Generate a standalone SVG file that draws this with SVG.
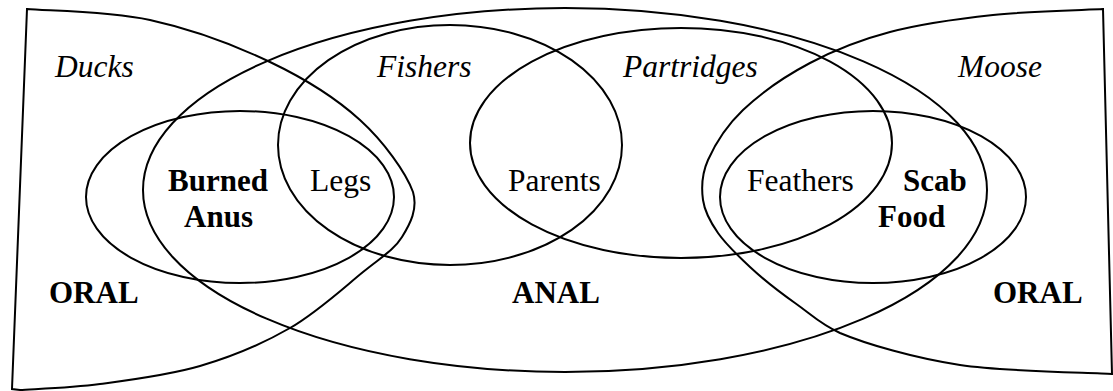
<svg xmlns="http://www.w3.org/2000/svg" width="1113" height="391" viewBox="0 0 1113 391">
<style>
.s{fill:none;stroke:#000;stroke-width:2}
.t{font-family:"Liberation Serif","Times New Roman",serif;font-size:31.5px;fill:#000}
.i{font-style:italic}
.b{font-weight:bold;font-size:31px}
</style>
<rect width="1113" height="391" fill="#fff"/>
<g id="oral-left">
<path class="s" d="M27,9 C47.5,10.8 109.5,11.2 150,20 C190.5,28.8 235,45.3 270,62 C305,78.7 336.2,98.3 360,120 C383.8,141.7 406,172.5 413,192 C418,209 410.3,223.7 402,237 C393.7,250.3 381.7,256.8 363,272 C344.3,287.2 317.2,312.3 290,328 C262.8,343.7 231.7,356.7 200,366 C168.3,375.3 130,380 100,384 C70,388 33.3,389 20,390 L12,389 Z"/>
</g>
<g id="oral-right">
<path class="s" d="M1103,9 C1084.7,10 1028.5,11.2 993,15 C957.5,18.8 920.5,24 890,32 C859.5,40 834.5,50 810,63 C785.5,76 760,93.8 743,110 C726,126.2 714.7,145 708,160 C701.3,175 701.3,187.8 703,200 C704.7,212.2 710.2,221.8 718,233 C725.8,244.2 738,255.8 750,267 C762,278.2 778,291 795,303 C812,315 820,324 840,333 C866,344 914.7,358.2 960,365 C1005.3,371.8 1086.7,372.5 1112,374 Z"/>
</g>
<g id="anal">
<ellipse class="s" cx="565" cy="190" rx="422" ry="182"/>
</g>
<g id="fishers">
<ellipse class="s" cx="450" cy="145" rx="172" ry="120"/>
</g>
<g id="partridges">
<ellipse class="s" cx="681" cy="143" rx="211" ry="115"/>
</g>
<g id="burned-ellipse">
<ellipse class="s" cx="240" cy="197" rx="154" ry="86"/>
</g>
<g id="scab-ellipse">
<ellipse class="s" cx="873" cy="197" rx="153" ry="86"/>
</g>
<g id="labels">
<text class="t i" x="55" y="77">Ducks</text>
<text class="t i" x="377" y="77">Fishers</text>
<text class="t i" x="623" y="77">Partridges</text>
<text class="t i" x="958" y="77">Moose</text>
<text class="t b" x="218" y="191" text-anchor="middle">Burned</text>
<text class="t b" x="218.5" y="227" text-anchor="middle">Anus</text>
<text class="t" x="310" y="191">Legs</text>
<text class="t" x="508" y="191">Parents</text>
<text class="t" x="747" y="191">Feathers</text>
<text class="t b" x="903" y="191">Scab</text>
<text class="t b" x="878" y="227">Food</text>
<text class="t b" x="49" y="303">ORAL</text>
<text class="t b" x="512" y="303">ANAL</text>
<text class="t b" x="993" y="303">ORAL</text>
</g>
</svg>
